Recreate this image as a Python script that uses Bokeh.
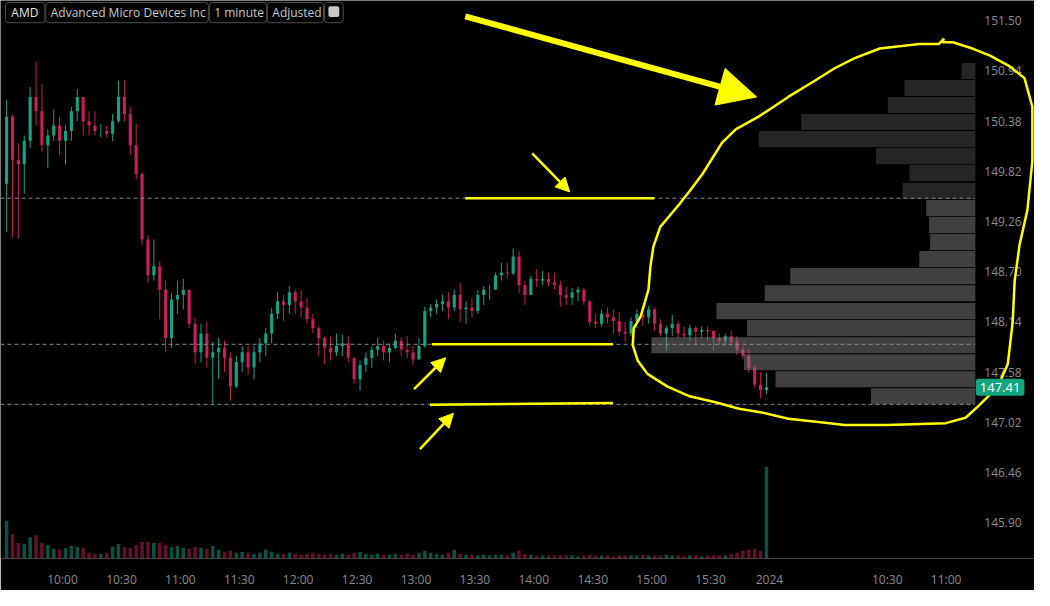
from bokeh.plotting import figure
from bokeh.models import (Range1d, FixedTicker, Label, BoxAnnotation,
                          PolyAnnotation, Arrow, NormalHead, ColumnDataSource)
from bokeh.core.properties import value
from bokeh.embed import file_html
from bokeh.resources import INLINE

# ---------------- data (3-minute bars, 09:30 - 16:00) ----------------
symbol = "AMD"
company = "Advanced Micro Devices Inc"
interval = "1 minute"
adjustment = "Adjusted"

first_open = 149.68
highs = [150.62,150.45,150.13,150.22,150.76,151.04,150.79,150.29,150.51,150.43,
         150.33,150.54,150.74,150.65,150.49,150.49,150.35,150.33,150.46,150.83,
         150.84,150.54,150.35,149.81,149.11,149.06,148.82,148.60,148.46,148.60,
         148.62,148.50,148.19,148.12,148.14,147.92,147.96,147.93,147.80,147.76,
         147.87,147.87,147.87,147.96,148.07,148.30,148.47,148.44,148.54,148.50,
         148.50,148.41,148.23,148.09,147.98,147.98,148.01,148.00,147.98,147.74,
         147.71,147.80,147.87,147.96,147.93,147.90,148.01,147.96,147.98,147.87,
         147.96,148.31,148.34,148.39,148.44,148.47,148.50,148.58,148.37,148.41,
         148.50,148.54,148.55,148.69,148.80,148.80,148.96,148.93,148.60,148.66,
         148.73,148.71,148.69,148.69,148.60,148.53,148.52,148.53,148.52,148.39,
         148.23,148.28,148.30,148.28,148.25,148.14,148.19,148.28,148.26,148.32,
         148.30,148.17,148.10,148.22,148.15,148.09,148.11,148.09,148.09,148.09,
         148.04,148.01,148.01,148.04,147.98,147.87,147.83,147.66,147.58,147.57]
lows = [149.14,149.09,149.07,149.57,150.08,150.33,150.04,149.86,150.16,150.00,
        149.90,150.16,150.38,150.22,150.22,150.22,150.20,150.20,150.16,150.36,
        150.38,150.00,149.73,149.00,148.58,148.60,148.17,147.80,147.85,148.23,
        148.28,148.07,147.67,147.69,147.63,147.21,147.50,147.58,147.26,147.40,
        147.58,147.55,147.50,147.69,147.76,147.90,148.17,148.15,148.23,148.23,
        148.19,148.12,148.01,147.76,147.67,147.71,147.76,147.76,147.69,147.45,
        147.37,147.58,147.63,147.76,147.71,147.69,147.83,147.76,147.74,147.66,
        147.72,147.85,148.19,148.23,148.26,148.17,148.26,148.14,148.12,148.19,
        148.23,148.33,148.39,148.50,148.60,148.62,148.66,148.46,148.33,148.44,
        148.53,148.55,148.54,148.50,148.31,148.33,148.33,148.37,148.33,148.09,
        148.07,148.09,148.12,148.01,147.98,147.92,147.98,148.07,148.09,148.12,
        148.04,147.98,147.82,147.98,147.96,147.96,147.93,147.88,147.96,147.93,
        147.82,147.88,147.87,147.87,147.77,147.72,147.58,147.40,147.29,147.33]
closes = [150.43,149.95,149.90,150.16,150.65,150.49,150.11,150.22,150.33,150.16,
          150.27,150.49,150.65,150.38,150.33,150.27,150.27,150.24,150.38,150.65,
          150.46,150.11,149.79,149.06,148.66,148.76,148.50,147.96,148.39,148.44,
          148.50,148.12,147.80,148.01,147.74,147.80,147.85,147.74,147.42,147.69,
          147.80,147.63,147.80,147.90,148.01,148.23,148.37,148.33,148.47,148.37,
          148.30,148.17,148.07,147.96,147.85,147.80,147.87,147.90,147.74,147.50,
          147.66,147.74,147.83,147.87,147.80,147.85,147.93,147.83,147.80,147.72,
          147.87,148.26,148.30,148.34,148.37,148.30,148.44,148.28,148.30,148.26,
          148.44,148.50,148.50,148.66,148.69,148.68,148.87,148.55,148.44,148.62,
          148.60,148.62,148.58,148.55,148.44,148.41,148.47,148.50,148.37,148.14,
          148.12,148.23,148.19,148.15,148.03,148.01,148.15,148.23,148.19,148.28,
          148.12,148.01,148.07,148.12,148.01,147.99,148.07,148.03,148.05,148.04,
          147.96,147.93,147.98,147.92,147.83,147.76,147.63,147.44,147.38,147.41]
volumes = [780,500,320,300,440,480,320,280,200,180,
           220,260,240,220,120,100,100,120,240,300,
           240,220,280,340,340,320,320,280,240,260,
           220,200,240,220,200,260,180,140,160,120,
           140,120,100,120,180,140,100,100,120,100,
           80,100,120,100,80,100,80,100,80,120,
           140,100,80,100,80,80,100,80,100,80,
           120,160,120,100,80,120,180,100,80,80,
           60,80,60,80,80,60,120,160,100,80,
           60,60,60,60,60,60,60,40,60,80,
           60,60,60,40,60,60,60,60,80,60,
           60,60,80,60,60,40,60,60,40,60,
           60,60,60,100,120,160,180,200,160,1900]

time_ticks = [30, 60, 90, 120, 150, 180, 210, 240, 270, 300, 330, 360, 390, 450, 480]
time_labels = ["10:00", "10:30", "11:00", "11:30", "12:00", "12:30", "13:00", "13:30",
               "14:00", "14:30", "15:00", "15:30", "2024", "10:30", "11:00"]
price_ticks = [145.90, 146.46, 147.02, 147.58, 148.14, 148.70, 149.26, 149.82,
               150.38, 150.94, 151.50]

profile_prices = [147.31, 147.50, 147.69, 147.88, 148.07, 148.26, 148.46, 148.65,
                  148.84, 149.03, 149.22, 149.41, 149.60, 149.80, 149.99, 150.18,
                  150.37, 150.56, 150.75, 150.94]
profile_volume = [1060, 2030, 2350, 3290, 2320, 2630, 2140, 1880, 570, 460,
                  470, 500, 740, 670, 1010, 2200, 1770, 890, 720, 140]
value_area_high = 149.52
point_of_control = 147.89
value_area_low = 147.22
last_price = 147.41

# ---------------- drawings (time in minutes from 09:30, price) ----------------
big_arrow = (235.1, 151.55, 383.5, 150.65)
small_arrows = [(269.2, 150.02, 288.3, 149.59),
                (209.0, 147.39, 225.1, 147.74),
                (212.0, 146.72, 229.1, 147.12)]
level_lines = [(235.1, 331.4, value_area_high, value_area_high),
               (218.1, 310.3, point_of_control, point_of_control),
               (217.1, 310.3, value_area_low - 0.005, value_area_low + 0.015)]
loop_t = [478.3, 483.4, 493.4, 502.4, 512.4, 519.9, 523.9, 523.9, 521.4, 517.4,
          514.9, 513.9, 511.4, 506.4, 501.4, 496.4, 489.9, 479.8, 449.8, 428.2,
          416.2, 399.6, 386.1, 374.5, 363.0, 349.4, 337.9, 327.9, 322.9, 320.4,
          320.9, 324.4, 325.9, 328.4, 329.4, 330.9, 334.4, 339.4, 344.4, 349.4,
          355.9, 365.9, 373.0, 384.5, 399.6, 413.1, 423.2, 433.2, 446.2, 466.3,
          476.3, 478.8]
loop_p = [151.26, 151.26, 151.19, 151.11, 150.99, 150.86, 150.54, 149.93, 149.39, 149.00,
          148.60, 148.14, 147.67, 147.42, 147.31, 147.20, 147.07, 147.01, 146.99, 146.99,
          147.02, 147.06, 147.13, 147.17, 147.24, 147.31, 147.42, 147.56, 147.71, 147.88,
          148.07, 148.20, 148.31, 148.50, 148.76, 148.98, 149.20, 149.33, 149.46, 149.60,
          149.79, 150.14, 150.29, 150.43, 150.65, 150.83, 150.97, 151.08, 151.19, 151.24,
          151.24, 151.30]

# ---------------- styling / geometry ----------------
UP = "#16a085"
DOWN = "#c81e5a"
YEL = "#ffff00"
FONT = "Open Sans"
AXIS_TXT = "#8c8c8c"
X0, X1 = -1.6, 525.0          # whole canvas width (chart + price scale)
Y0, Y1 = 145.50, 151.726
CHART_END = 494.6              # right edge of the chart area / price-scale start


def px_x(px):
    return X0 + px / 1050 * (X1 - X0)


def px_y(py):
    return Y1 - py / 578 * (Y1 - Y0)


opens = [first_open] + closes[:-1]
t = [3 * i + 1.5 for i in range(len(closes))]
colors = [UP if c >= o else DOWN for o, c in zip(opens, closes)]
src = ColumnDataSource(dict(
    t=t, o=opens, h=highs, l=lows, c=closes, v=volumes, color=colors,
    top=[max(o, c) for o, c in zip(opens, closes)],
    bottom=[min(o, c) for o, c in zip(opens, closes)],
))

p = figure(width=1034, height=590, x_range=Range1d(X0, X1), y_range=Range1d(Y0, Y1),
           output_backend="svg", toolbar_location=None, y_axis_location=None,
           background_fill_color="#000000", border_fill_color="#000000",
           min_border_left=0, min_border_top=0, min_border_right=0, min_border_bottom=28)
p.outline_line_color = None
p.grid.visible = False

p.extra_y_ranges = {"vol": Range1d(0, 1900 * 578 / 95)}
# profile scale: 0 at the chart's right edge, growing to the left (10 units per ref px)
p.extra_x_ranges = {"prof": Range1d(start=9900, end=-600)}

# time axis
xa = p.xaxis[0]
xa.ticker = FixedTicker(ticks=time_ticks)
xa.major_label_overrides = {tk: lb for tk, lb in zip(time_ticks, time_labels)}
xa.axis_line_color = None
xa.major_tick_line_color = None
xa.minor_tick_line_color = None
xa.major_tick_out = 0
xa.major_tick_in = 0
xa.major_label_text_color = AXIS_TXT
xa.major_label_text_font = FONT
xa.major_label_text_font_size = "12px"
xa.major_label_standoff = 12

# price scale labels
p.text(x=[px_x(999)] * len(price_ticks), y=price_ticks,
       text=[f"{v:.2f}" for v in price_ticks], text_baseline="middle",
       text_align="left", text_color=AXIS_TXT, text_font=value(FONT),
       text_font_size="12px")

# volume
p.vbar(x="t", width=1.8, top="v", bottom=0, source=src, y_range_name="vol",
       fill_color="color", fill_alpha=0.5, line_color=None)

# candles
p.segment(x0="t", y0="h", x1="t", y1="l", source=src, line_color="color", line_width=1)
p.vbar(x="t", width=1.6, top="top", bottom="bottom", source=src,
       fill_color="color", line_color=None)

# volume profile
prof_colors = ["#808080" if pr <= value_area_high else "#4a4a4a" for pr in profile_prices]
p.hbar(y=profile_prices, left=0, right=profile_volume, height=0.18,
       x_range_name="prof", fill_color=prof_colors, fill_alpha=0.5, line_color=None)

levels = [value_area_high, point_of_control, value_area_low]
p.segment(x0=[X0] * 3, x1=[CHART_END] * 3, y0=levels, y1=levels,
          line_color="#8a8a8a", line_dash="4 3", line_width=1)

# yellow drawings
for x0, x1, y0, y1 in level_lines:
    p.segment(x0=[x0], y0=[y0], x1=[x1], y1=[y1], line_color=YEL, line_width=2.5)
p.add_layout(Arrow(x_start=big_arrow[0], y_start=big_arrow[1],
                   x_end=big_arrow[2], y_end=big_arrow[3],
                   line_color=YEL, line_width=6,
                   end=NormalHead(size=38, fill_color=YEL, line_color=YEL)))
for a in small_arrows:
    p.add_layout(Arrow(x_start=a[0], y_start=a[1], x_end=a[2], y_end=a[3],
                       line_color=YEL, line_width=2.5,
                       end=NormalHead(size=14, fill_color=YEL, line_color=YEL)))
p.add_layout(PolyAnnotation(xs=loop_t, ys=loop_p, fill_alpha=0, line_color=YEL,
                            line_alpha=1, line_width=2.5))

# last price tag
p.add_layout(Label(x=CHART_END, y=last_price, x_offset=1, text=f"{last_price:.2f}",
                   text_baseline="middle", text_align="left", text_color="#ffffff",
                   text_font=FONT, text_font_size="13px",
                   background_fill_color="#14a57f", border_radius=3, padding=4))

# header (top-left): one rounded cell per item
cells = [(5, 45), (46, 211), (212, 270), (271, 328), (329, 348)]
for lft, rgt in cells:
    p.add_layout(BoxAnnotation(left=px_x(lft), right=px_x(rgt), top=px_y(2),
                               bottom=px_y(23), fill_alpha=0, line_color="#4d4d4d",
                               line_alpha=1, line_width=1, border_radius=3))
for txt, xp, col in ((symbol, 11, "#e6e6e6"), (company, 51, "#c8c8c8"),
                     (interval, 217, "#c8c8c8"), (adjustment, 276, "#c8c8c8")):
    p.add_layout(Label(x=px_x(xp), y=px_y(12.5), text=txt, text_baseline="middle",
                       text_color=col, text_font=FONT, text_font_size="12px"))
p.add_layout(BoxAnnotation(left=px_x(333), right=px_x(344), top=px_y(6), bottom=px_y(17),
                           fill_color="#c8c8c8", fill_alpha=1, line_color=None,
                           border_radius=2))
p.segment(x0=[px_x(335.5)] * 2, x1=[px_x(341.5)] * 2, y0=[px_y(10), px_y(13)],
          y1=[px_y(10), px_y(13)], line_color="#000000", line_width=1.5)

open("out.html", "w").write(file_html(p, INLINE))
